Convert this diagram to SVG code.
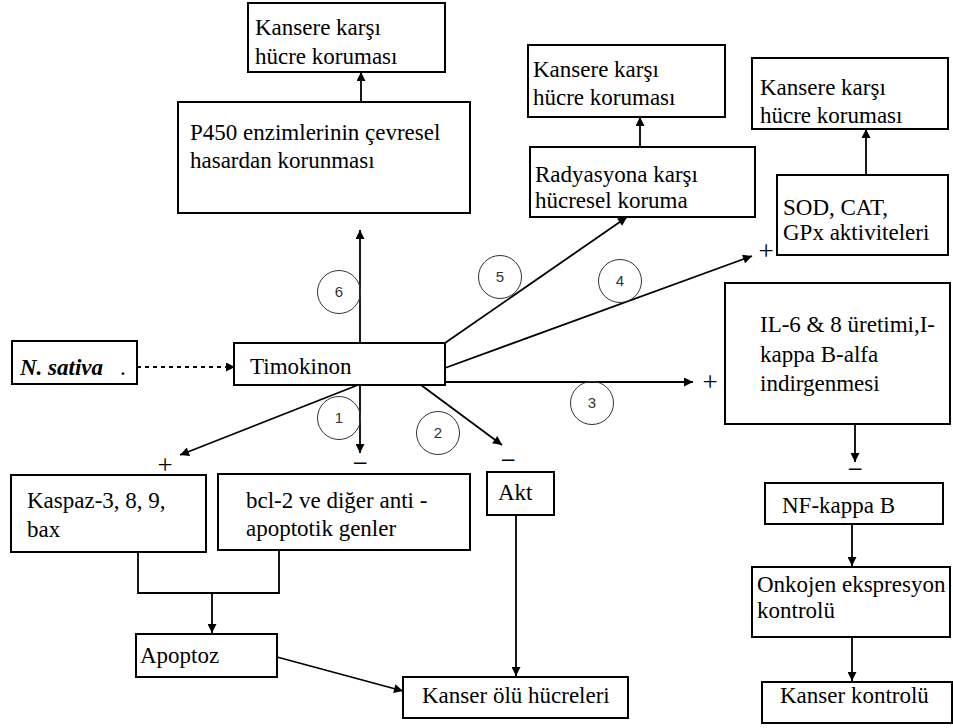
<svg xmlns="http://www.w3.org/2000/svg" width="953" height="728" viewBox="0 0 953 728">
<style>
.box{fill:#fff;stroke:#000;stroke-width:2}
.t{font-family:'Liberation Serif','Times New Roman',Tinos,Times,'DejaVu Serif',serif;font-size:23px;fill:#000}
.ln{stroke:#000;stroke-width:1.8;fill:none}
.c{fill:none;stroke:#333;stroke-width:1}
.n{font-family:'Liberation Sans',Arial,'DejaVu Sans',sans-serif;font-size:15px;fill:#333;text-anchor:middle}
.s{font-family:'Liberation Serif','Times New Roman',Tinos,Times,'DejaVu Serif',serif;font-size:27px;fill:#000;text-anchor:middle}
</style>
<defs>
<marker id="ah" viewBox="0 0 10 10" refX="10" refY="5" markerWidth="10" markerHeight="9" markerUnits="userSpaceOnUse" orient="auto"><path d="M0,0 L10,5 L0,10 z" fill="#000"/></marker>
</defs>
<rect width="953" height="728" fill="#fff"/>
<g id="connectors">
<line class="ln" x1="137" y1="367" x2="235" y2="367" stroke-width="3.5" stroke-dasharray="4 4" marker-end="url(#ah)"/>
<line class="ln" x1="361" y1="102" x2="361" y2="72" marker-end="url(#ah)"/>
<line class="ln" x1="640" y1="147" x2="640" y2="117" marker-end="url(#ah)"/>
<line class="ln" x1="866" y1="175" x2="866" y2="129" marker-end="url(#ah)"/>
<line class="ln" x1="360" y1="343" x2="360" y2="230" marker-end="url(#ah)"/>
<line class="ln" x1="360" y1="385" x2="360" y2="453" marker-end="url(#ah)"/>
<line class="ln" x1="358" y1="385" x2="180" y2="455" marker-end="url(#ah)"/>
<line class="ln" x1="421" y1="385" x2="502" y2="445" marker-end="url(#ah)"/>
<line class="ln" x1="445" y1="382" x2="693" y2="382" marker-end="url(#ah)"/>
<line class="ln" x1="445" y1="368" x2="752" y2="256" marker-end="url(#ah)"/>
<line class="ln" x1="445" y1="343" x2="627" y2="217" marker-end="url(#ah)"/>
<line class="ln" x1="855" y1="424" x2="855" y2="462" marker-end="url(#ah)"/>
<line class="ln" x1="852" y1="524" x2="852" y2="566" marker-end="url(#ah)"/>
<line class="ln" x1="852" y1="637" x2="852" y2="681" marker-end="url(#ah)"/>
<polyline class="ln" points="138,552 138,593 279,593 279,550"/>
<line class="ln" x1="212" y1="593" x2="212" y2="633" marker-end="url(#ah)"/>
<line class="ln" x1="277" y1="657" x2="403" y2="691" marker-end="url(#ah)"/>
<line class="ln" x1="516" y1="515" x2="516" y2="676" marker-end="url(#ah)"/>
</g>
<g id="labels">
<circle class="c" cx="339" cy="292" r="21.5"/><text class="n" x="339" y="297">6</text>
<circle class="c" cx="339" cy="418" r="21.5"/><text class="n" x="339" y="423">1</text>
<circle class="c" cx="438" cy="433" r="21.5"/><text class="n" x="438" y="438">2</text>
<circle class="c" cx="592" cy="403" r="21.5"/><text class="n" x="592" y="408">3</text>
<circle class="c" cx="620" cy="281" r="21.5"/><text class="n" x="620" y="286">4</text>
<circle class="c" cx="500" cy="277" r="21.5"/><text class="n" x="500" y="282">5</text>
<text class="s" x="165" y="474">+</text>
<text class="s" x="360" y="472">−</text>
<text class="s" x="508" y="469">−</text>
<text class="s" x="710" y="391">+</text>
<text class="s" x="766" y="260">+</text>
<text class="s" x="855" y="478">−</text>
</g>
<g id="n-kansere1"><rect class="box" x="248" y="3" width="197" height="69"/><text class="t" x="255" y="35">Kansere karşı</text><text class="t" x="255" y="64">hücre koruması</text></g>
<g id="n-p450"><rect class="box" x="178" y="102" width="292" height="111"/><text class="t" x="190" y="140">P450 enzimlerinin çevresel</text><text class="t" x="190" y="168">hasardan korunması</text></g>
<g id="n-kansere2"><rect class="box" x="528" y="45" width="197" height="72"/><text class="t" x="533" y="77">Kansere karşı</text><text class="t" x="533" y="105">hücre koruması</text></g>
<g id="n-radyasyon"><rect class="box" x="530" y="147" width="225" height="70"/><text class="t" x="535" y="182">Radyasyona karşı</text><text class="t" x="535" y="208">hücresel koruma</text></g>
<g id="n-kansere3"><rect class="box" x="752" y="58" width="196" height="71"/><text class="t" x="760" y="95">Kansere karşı</text><text class="t" x="760" y="123">hücre koruması</text></g>
<g id="n-sod"><rect class="box" x="777" y="175" width="171" height="80"/><text class="t" x="783" y="215">SOD, CAT,</text><text class="t" x="783" y="240">GPx aktiviteleri</text></g>
<g id="n-sativa"><rect class="box" x="12" y="341" width="125" height="43"/><text class="t" x="20" y="375" font-weight="bold" font-style="italic">N. sativa</text><text class="t" x="120" y="375" font-size="10" fill="#777">.</text></g>
<g id="n-timokinon"><rect class="box" x="234" y="343" width="211" height="42"/><text class="t" x="250" y="374">Timokinon</text></g>
<g id="n-il6"><rect class="box" x="725" y="283" width="225" height="141"/><text class="t" x="760" y="332">IL-6 &amp; 8 üretimi,I-</text><text class="t" x="760" y="362">kappa B-alfa</text><text class="t" x="760" y="391">indirgenmesi</text></g>
<g id="n-kaspaz"><rect class="box" x="11" y="475" width="195" height="77"/><text class="t" x="27" y="508">Kaspaz-3, 8, 9,</text><text class="t" x="27" y="537">bax</text></g>
<g id="n-bcl2"><rect class="box" x="218" y="474" width="252" height="76"/><text class="t" x="246" y="508">bcl-2 ve diğer anti -</text><text class="t" x="246" y="536">apoptotik genler</text></g>
<g id="n-akt"><rect class="box" x="487" y="472" width="67" height="43"/><text class="t" x="498" y="500">Akt</text></g>
<g id="n-apoptoz"><rect class="box" x="136" y="634" width="141" height="43"/><text class="t" x="140" y="663">Apoptoz</text></g>
<g id="n-kanserolu"><rect class="box" x="403" y="677" width="225" height="41"/><text class="t" x="422" y="703">Kanser ölü hücreleri</text></g>
<g id="n-nfkb"><rect class="box" x="765" y="483" width="178" height="41"/><text class="t" x="782" y="513">NF-kappa B</text></g>
<g id="n-onkojen"><rect class="box" x="752" y="567" width="198" height="70"/><text class="t" x="757" y="592">Onkojen ekspresyon</text><text class="t" x="757" y="618">kontrolü</text></g>
<g id="n-kanserkontrol"><rect class="box" x="762" y="682" width="190" height="41"/><text class="t" x="780" y="703">Kanser kontrolü</text></g>
</svg>
